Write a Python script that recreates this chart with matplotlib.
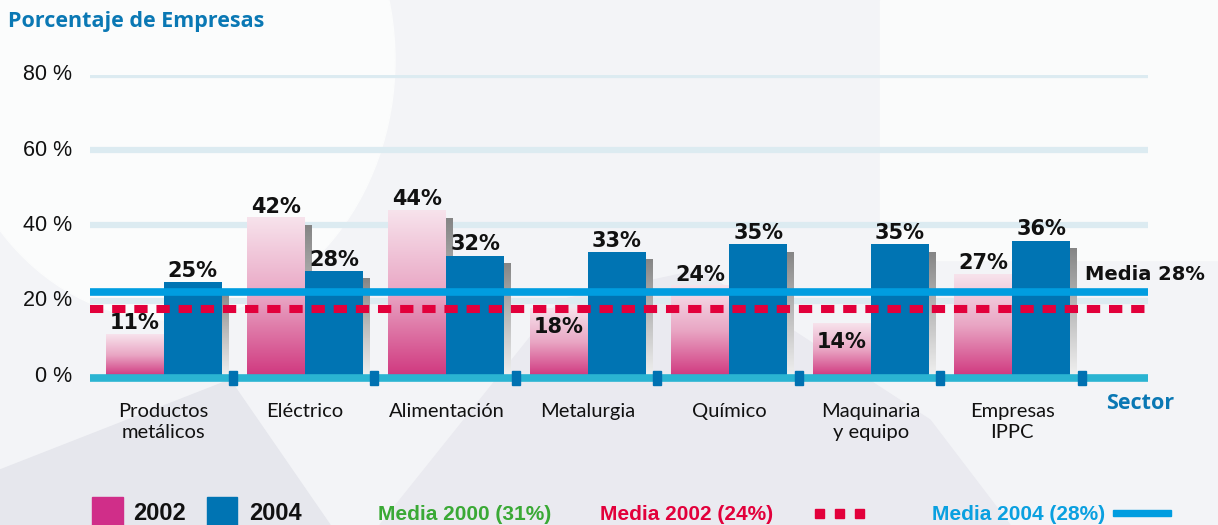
import numpy as np
import matplotlib
matplotlib.use("Agg")
import matplotlib.pyplot as plt
from matplotlib.patches import Rectangle, Polygon, Ellipse
from matplotlib.colors import LinearSegmentedColormap

# data
sectors = ["Productos\nmetálicos", "Eléctrico", "Alimentación", "Metalurgia",
           "Químico", "Maquinaria\ny equipo", "Empresas\nIPPC"]
pct_2002 = [11, 42, 44, 18, 24, 14, 27]
pct_2004 = [25, 28, 32, 33, 35, 35, 36]
y_ticks = [0, 20, 40, 60, 80]
# where the mean lines sit in the picture
media_2002_level = 17.8
media_2004_level = 22.3
media_label = "Media 28%"
legend_texts = ["Media 2000 (31%)", "Media 2002 (24%)", "Media 2004 (28%)"]

W, H = 1218, 525
fig = plt.figure(figsize=(W / 100, H / 100), dpi=100)
fig.patch.set_facecolor("#f3f4f7")

# decorative background
bg = fig.add_axes([0, 0, 1, 1])
bg.set_xlim(0, W)
bg.set_ylim(H, 0)
bg.axis("off")
bg.add_patch(Ellipse((170, 60), 450, 520, color="#fbfcfc", zorder=0))
bg.add_patch(Polygon([[0, 525], [0, 470], [230, 380], [330, 525]], color="#e6e7ed", zorder=0))
bg.add_patch(Polygon([[380, 525], [560, 300], [700, 270], [930, 420], [1010, 525]],
                     color="#eaeaf0", zorder=0))
bg.add_patch(Rectangle((880, 0), 338, 260, color="#fafbfb", zorder=0))

ax = fig.add_axes([90 / W, (H - 376) / H, 1058 / W, (376 - 75) / H])
ax.patch.set_alpha(0)
x0, x1 = -0.52, 6.96
ax.set_xlim(x0, x1)
ax.set_ylim(0, 80)
for s in ax.spines.values():
    s.set_visible(False)
ax.set_xticks([])
ax.set_yticks([])

px_x = (x1 - x0) / 1058
px_y = 80 / 301

# gridlines
for t in y_ticks[1:]:
    ax.plot([x0, x1], [t, t], color="#dcebf1", lw=4.5, solid_capstyle="butt", zorder=1)
for t in y_ticks:
    ax.text(x0 - 18 * px_x, t, "%d %%" % t, ha="right", va="center", fontsize=15.5,
            family="Liberation Sans", color="#111111")

bw = 0.41
pink_cmap = LinearSegmentedColormap.from_list("pink", ["#f7e3ec", "#e9a6c4", "#d0387f"])
grey_cmap = LinearSegmentedColormap.from_list("grey", ["#858585", "#bdbdbd", "#f0f0f0"])
grad = np.linspace(0, 1, 256).reshape(-1, 1)

xs = np.arange(len(sectors))
sh_dx = 7 * px_x
sh_dy = 8 * px_y

# shadows
for i in xs:
    for left, v in ((i - bw, pct_2002[i]), (i, pct_2004[i])):
        ax.imshow(grad, cmap=grey_cmap, aspect="auto", zorder=2,
                  extent=(left + sh_dx, left + bw + sh_dx, 0, v - sh_dy))

# bars
for i in xs:
    ax.imshow(grad, cmap=pink_cmap, aspect="auto", zorder=3,
              extent=(i - bw, i, 0, pct_2002[i]))
ax.bar(xs + bw / 2, pct_2004, width=bw, color="#0074b3", zorder=4)
ax.set_xlim(x0, x1)
ax.set_ylim(0, 80)

# mean lines
ax.plot([x0, x1], [media_2004_level] * 2, color="#009de0", lw=5.5, solid_capstyle="butt",
        zorder=6, clip_on=False)
ax.plot([x0, x1], [media_2002_level] * 2, color="#e2003b", lw=5.8, ls=(0, (1.65, 1.1)),
        solid_capstyle="butt", dash_capstyle="butt", zorder=6, clip_on=False)
ax.text(x1 - 63 * px_x, media_2004_level + 2.2, media_label, ha="left", va="bottom",
        fontsize=14, family="DejaVu Sans", fontweight="bold", color="#111111")

# baseline with small ticks
ax.plot([x0, x1], [-0.5, -0.5], color="#2ab4d2", lw=5.5, solid_capstyle="butt",
        zorder=7, clip_on=False)
for i in xs:
    ax.add_patch(Rectangle((i + 0.49 - 4 * px_x, -0.5 - 7 * px_y), 8 * px_x, 14 * px_y,
                           color="#0071b1", zorder=8, clip_on=False))

# value labels
lab_h = 5.5


def label_y(v):
    for lvl in (media_2002_level, media_2004_level):
        if v < lvl < v + lab_h:
            return v - 2.2, "top"
    return v + 0.3, "bottom"


for i in xs:
    for cx, v in ((i - bw / 2, pct_2002[i]), (i + bw / 2, pct_2004[i])):
        y, va = label_y(v)
        ax.text(cx, y, "%d%%" % v, ha="center", va=va, fontsize=15, family="DejaVu Sans",
                fontweight="bold", color="#111111", zorder=9)

# category labels
for i in xs:
    ax.text(i, -7.2, sectors[i], ha="center", va="top", fontsize=14.5, family="Lato",
            color="#111111", linespacing=1.25)
ax.text(x1 - 8 * px_x, -4.5, "Sector", ha="center", va="top", fontsize=15.5,
        family="Open Sans", fontweight="bold", color="#0a78b4")

# title
fig.text(8 / W, 1 - 22 / H, "Porcentaje de Empresas", ha="left", va="center", fontsize=15.5,
         family="Open Sans", fontweight="bold", color="#0a78b4")

# legend at the bottom
leg_font = dict(fontsize=15, family="Liberation Sans", fontweight="bold", va="center")
ly = 1 - 514 / H
bg.add_patch(Rectangle((92, 497), 31, 30, color="#d02e89", zorder=2))
bg.add_patch(Rectangle((207, 497), 30, 30, color="#0074b3", zorder=2))
fig.text(133 / W, ly, "2002", color="#111111", **dict(leg_font, fontsize=17))
fig.text(249 / W, ly, "2004", color="#111111", **dict(leg_font, fontsize=17))
fig.text(378 / W, ly, legend_texts[0], color="#3aa935", **leg_font)
fig.text(600 / W, ly, legend_texts[1], color="#e2003b", **leg_font)
fig.text(932 / W, ly, legend_texts[2], color="#0aa0e0", **leg_font)
for k in range(3):
    bg.add_patch(Rectangle((815 + k * 20, 509), 9, 9, color="#e2003b", zorder=2))
bg.add_patch(Rectangle((1113, 510), 58, 6, color="#009de0", zorder=2))

fig.savefig("out.png", dpi=100, facecolor=fig.get_facecolor())
